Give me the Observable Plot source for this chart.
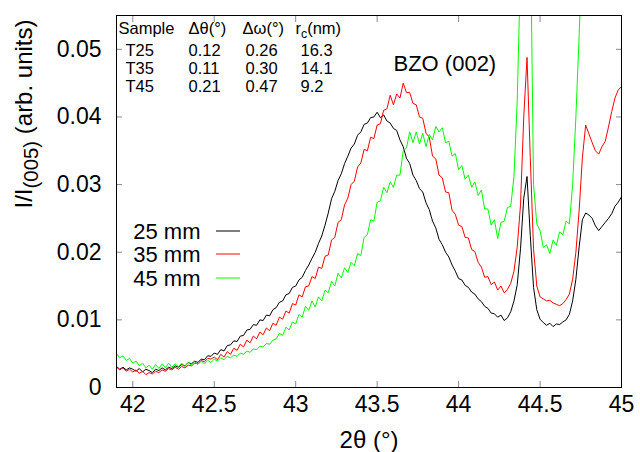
<!DOCTYPE html>
<html><head><meta charset="utf-8">
<script src="https://cdn.jsdelivr.net/npm/d3@7"></script>
<script src="https://cdn.jsdelivr.net/npm/@observablehq/plot@0.6"></script>
<style>
html,body{margin:0;padding:0;background:#fff}
svg{display:block}
</style>
</head><body><div id="chart"></div>
<script>
// 2θ positions (degrees)
const twoTheta = [
41.90,41.92,41.94,41.96,41.98,42.00,42.02,42.04,42.06,42.08,
42.10,42.12,42.14,42.16,42.18,42.20,42.22,42.24,42.26,42.28,
42.30,42.32,42.34,42.36,42.38,42.40,42.42,42.44,42.46,42.48,
42.50,42.52,42.54,42.56,42.58,42.60,42.62,42.64,42.66,42.68,
42.70,42.72,42.74,42.76,42.78,42.80,42.82,42.84,42.86,42.88,
42.90,42.92,42.94,42.96,42.98,43.00,43.02,43.04,43.06,43.08,
43.10,43.12,43.14,43.16,43.18,43.20,43.22,43.24,43.26,43.28,
43.30,43.32,43.34,43.36,43.38,43.40,43.42,43.44,43.46,43.48,
43.50,43.52,43.54,43.56,43.58,43.60,43.62,43.64,43.66,43.68,
43.70,43.72,43.74,43.76,43.78,43.80,43.82,43.84,43.86,43.88,
43.90,43.92,43.94,43.96,43.98,44.00,44.02,44.04,44.06,44.08,
44.10,44.12,44.14,44.16,44.18,44.20,44.22,44.24,44.26,44.28,
44.30,44.32,44.34,44.36,44.38,44.40,44.42,44.44,44.46,44.48,
44.50,44.52,44.54,44.56,44.58,44.60,44.62,44.64,44.66,44.68,
44.70,44.72,44.74,44.76,44.78,44.80,44.82,44.84,44.86,44.88,
44.90,44.92,44.94,44.96,44.98,45.00];

const series25 = [
0.0031,0.0027,0.0030,0.0026,0.0029,0.0027,0.0024,0.0028,0.0023,0.0027,
0.0025,0.0022,0.0027,0.0025,0.0029,0.0026,0.0030,0.0028,0.0032,0.0030,
0.0034,0.0032,0.0037,0.0035,0.0039,0.0037,0.0042,0.0041,0.0047,0.0046,
0.0051,0.0049,0.0056,0.0054,0.0062,0.0063,0.0069,0.0068,0.0076,0.0077,
0.0085,0.0086,0.0093,0.0092,0.0100,0.0099,0.0107,0.0106,0.0115,0.0118,
0.0126,0.0128,0.0137,0.0139,0.0148,0.0150,0.0159,0.0163,0.0173,0.0181,
0.0191,0.0200,0.0213,0.0224,0.0240,0.0258,0.0279,0.0290,0.0306,0.0316,
0.0331,0.0342,0.0354,0.0360,0.0373,0.0378,0.0389,0.0391,0.0399,0.0400,
0.0407,0.0399,0.0403,0.0394,0.0391,0.0383,0.0380,0.0366,0.0356,0.0339,
0.0331,0.0314,0.0306,0.0294,0.0289,0.0273,0.0263,0.0246,0.0236,0.0219,
0.0211,0.0200,0.0193,0.0181,0.0172,0.0161,0.0159,0.0151,0.0148,0.0141,
0.0138,0.0131,0.0127,0.0120,0.0117,0.0110,0.0109,0.0104,0.0107,0.0099,
0.0103,0.0112,0.0128,0.0152,0.0205,0.0280,0.0312,0.0225,0.0148,0.0115,
0.0101,0.0096,0.0092,0.0095,0.0090,0.0094,0.0093,0.0097,0.0100,0.0108,
0.0128,0.0160,0.0208,0.0248,0.0258,0.0255,0.0250,0.0239,0.0232,0.0238,
0.0244,0.0250,0.0257,0.0268,0.0274,0.0282];

const series35 = [
0.0030,0.0026,0.0029,0.0024,0.0027,0.0023,0.0026,0.0021,0.0024,0.0019,
0.0022,0.0020,0.0024,0.0022,0.0026,0.0024,0.0028,0.0026,0.0030,0.0027,
0.0031,0.0029,0.0033,0.0032,0.0036,0.0035,0.0040,0.0038,0.0043,0.0042,
0.0045,0.0041,0.0049,0.0045,0.0053,0.0049,0.0058,0.0055,0.0064,0.0060,
0.0070,0.0066,0.0076,0.0072,0.0082,0.0078,0.0088,0.0084,0.0095,0.0092,
0.0104,0.0101,0.0113,0.0110,0.0124,0.0122,0.0137,0.0134,0.0149,0.0150,
0.0164,0.0161,0.0178,0.0176,0.0194,0.0196,0.0218,0.0222,0.0244,0.0248,
0.0270,0.0280,0.0300,0.0305,0.0326,0.0332,0.0352,0.0350,0.0370,0.0368,
0.0388,0.0390,0.0410,0.0412,0.0432,0.0418,0.0434,0.0428,0.0450,0.0436,
0.0436,0.0420,0.0418,0.0400,0.0398,0.0376,0.0370,0.0342,0.0338,0.0314,
0.0310,0.0289,0.0288,0.0262,0.0256,0.0240,0.0238,0.0222,0.0221,0.0204,
0.0201,0.0185,0.0178,0.0163,0.0164,0.0152,0.0156,0.0144,0.0150,0.0140,
0.0145,0.0154,0.0172,0.0208,0.0270,0.0400,0.0488,0.0340,0.0205,0.0150,
0.0134,0.0131,0.0128,0.0129,0.0125,0.0123,0.0121,0.0124,0.0130,0.0138,
0.0160,0.0200,0.0262,0.0340,0.0388,0.0375,0.0362,0.0350,0.0345,0.0356,
0.0364,0.0385,0.0408,0.0428,0.0440,0.0445];

const series45 = [
0.0050,0.0044,0.0047,0.0040,0.0043,0.0036,0.0039,0.0032,0.0036,0.0029,
0.0033,0.0027,0.0034,0.0028,0.0035,0.0029,0.0036,0.0030,0.0035,0.0031,
0.0036,0.0031,0.0037,0.0033,0.0038,0.0034,0.0039,0.0035,0.0040,0.0037,
0.0042,0.0039,0.0044,0.0041,0.0046,0.0044,0.0048,0.0046,0.0051,0.0049,
0.0054,0.0052,0.0057,0.0056,0.0061,0.0060,0.0065,0.0064,0.0070,0.0072,
0.0080,0.0077,0.0089,0.0085,0.0097,0.0094,0.0108,0.0104,0.0120,0.0114,
0.0128,0.0119,0.0134,0.0128,0.0144,0.0140,0.0157,0.0150,0.0169,0.0162,
0.0177,0.0170,0.0185,0.0180,0.0198,0.0195,0.0222,0.0226,0.0248,0.0246,
0.0274,0.0276,0.0296,0.0288,0.0304,0.0296,0.0314,0.0314,0.0350,0.0354,
0.0378,0.0362,0.0378,0.0360,0.0376,0.0356,0.0374,0.0366,0.0386,0.0378,
0.0384,0.0362,0.0364,0.0342,0.0346,0.0322,0.0328,0.0308,0.0314,0.0296,
0.0304,0.0284,0.0292,0.0264,0.0264,0.0240,0.0248,0.0220,0.0244,0.0246,
0.0266,0.0268,0.0312,0.0425,0.0620,0.0900,0.1000,0.0700,0.0300,0.0242,
0.0232,0.0207,0.0211,0.0198,0.0218,0.0210,0.0230,0.0226,0.0246,0.0242,
0.0300,0.0400,0.0520,0.0650,0.0720,0.0700,0.0680,0.0700,0.0720,0.0750,
0.0780,0.0800,0.0820,0.0850,0.0880,0.0900];

const seriesNames = ["25 mm", "35 mm", "45 mm"];
const seriesColors = ["#000000", "#ff0000", "#00ff00"];

const xTicks = [42, 42.5, 43, 43.5, 44, 44.5, 45];
const yTicks = [0, 0.01, 0.02, 0.03, 0.04, 0.05];

const tableHeader = ["Sample", "Δθ(°)", "Δω(°)", "rc(nm)"];
const tableSample = ["T25", "T35", "T45"];
const tableDTheta = ["0.12", "0.11", "0.21"];
const tableDOmega = ["0.26", "0.30", "0.47"];
const tableRc = ["16.3", "14.1", "9.2"];

const peakLabel = "BZO (002)";
const xLabel = "2θ (°)";
const yLabel = "I/I(005) (arb. units)";

// ---- build table for Plot ----
const allSeries = [series25, series35, series45];
const rows = [];
allSeries.forEach((s, k) => {
  const n = Math.min(s.length, twoTheta.length);
  for (let i = 0; i < n; i++) rows.push({x: twoTheta[i], y: s[i], series: seriesNames[k]});
});

const FONT = "'Liberation Sans', Arial, Helvetica, sans-serif";
const W = 640, H = 452;
const mL = 116, mR = 19, mT = 15, mB = 65;
const tickColor = "#8a8a8a";

const marks = [];

// data lines (drawn in order 25, 35, 45)
seriesNames.forEach((name) => {
  marks.push(Plot.line(rows.filter(d => d.series === name), {
    x: "x", y: "y", stroke: "series", strokeWidth: 1, clip: true
  }));
});

// inward ticks on all four sides
marks.push(Plot.axisX(xTicks, {anchor: "bottom", tickSize: 6, dy: -6, text: null, stroke: tickColor, label: null}));
marks.push(Plot.axisX(xTicks, {anchor: "top", tickSize: 6, dy: 6, text: null, stroke: tickColor, label: null}));
marks.push(Plot.axisY(yTicks, {anchor: "left", tickSize: 6, dx: 6, text: null, stroke: tickColor, label: null}));
marks.push(Plot.axisY(yTicks, {anchor: "right", tickSize: 6, dx: -6, text: null, stroke: tickColor, label: null}));
// tick labels
marks.push(Plot.axisX(xTicks, {anchor: "bottom", tickSize: 0, tickPadding: 8, tickFormat: d => String(d), label: null, fontSize: 23}));
marks.push(Plot.axisY(yTicks, {anchor: "left", tickSize: 0, tickPadding: 15, tickFormat: d => String(d), label: null, fontSize: 23}));

marks.push(Plot.frame({stroke: "#000", strokeWidth: 1}));

// axis titles
marks.push(Plot.text([xLabel], {frameAnchor: "bottom", lineAnchor: "middle", dy: 53, fontSize: 24, fill: "#000"}));
marks.push(Plot.text([yLabel], {frameAnchor: "left", lineAnchor: "middle", rotate: -90, dx: -92, dy: 7, fontSize: 24, fill: "#000"}));

// peak annotation
marks.push(Plot.text([peakLabel], {frameAnchor: "top-left", lineAnchor: "middle", dx: 277, dy: 48, textAnchor: "start", fontSize: 22, fill: "#000"}));

// table
const headerDx = [2, 72, 126, 179];
const valueDx = [9, 72, 129, 184];
const headerDy = 13;
const rowDy = [35, 53, 71];
tableHeader.forEach((h, j) => {
  marks.push(Plot.text([h], {frameAnchor: "top-left", lineAnchor: "middle", dx: headerDx[j], dy: headerDy, textAnchor: "start", fontSize: 16.5, fill: "#000"}));
});
[tableSample, tableDTheta, tableDOmega, tableRc].forEach((col, j) => {
  col.forEach((v, i) => {
    marks.push(Plot.text([v], {frameAnchor: "top-left", lineAnchor: "middle", dx: valueDx[j], dy: rowDy[i], textAnchor: "start", fontSize: 16.5, fill: "#000"}));
  });
});

// legend labels
const legendDy = [216, 239, 263];
seriesNames.forEach((name, i) => {
  marks.push(Plot.text([name], {frameAnchor: "top-left", lineAnchor: "middle", dx: 84, dy: legendDy[i], textAnchor: "end", fontSize: 22, fill: "#000"}));
});

const chart = Plot.plot({
  width: W, height: H,
  marginLeft: mL, marginRight: mR, marginTop: mT, marginBottom: mB,
  style: {fontFamily: FONT, fontSize: "22px", color: "#000", background: "#fff", overflow: "visible"},
  x: {domain: [41.9, 45], label: null},
  y: {domain: [0, 0.055], label: null},
  color: {domain: seriesNames, range: seriesColors},
  marks
});

// subscripts and legend samples
const svg = d3.select(chart.tagName.toLowerCase() === "svg" ? chart : chart.querySelector("svg"));
svg.selectAll("text").each(function() {
  const t = d3.select(this);
  const txt = this.textContent;
  if (txt === yLabel) {
    t.text(null);
    t.append("tspan").text("I/I");
    t.append("tspan").attr("dy", "0.3em").attr("font-size", "0.85em").text("(005)");
    t.append("tspan").attr("dy", "-0.255em").text(" (arb. units)");
  } else if (txt === "rc(nm)") {
    t.text(null);
    t.append("tspan").text("r");
    t.append("tspan").attr("dy", "0.3em").attr("font-size", "0.75em").text("c");
    t.append("tspan").attr("dy", "-0.225em").text("(nm)");
  }
});
const legendG = svg.append("g").attr("aria-label", "legend-samples");
seriesColors.forEach((c, i) => {
  const yy = mT + legendDy[i];
  legendG.append("line")
    .attr("x1", mL + 100).attr("x2", mL + 124)
    .attr("y1", yy).attr("y2", yy)
    .attr("stroke", c).attr("stroke-width", 1);
});

document.getElementById("chart").appendChild(chart);
</script>
</body></html>
